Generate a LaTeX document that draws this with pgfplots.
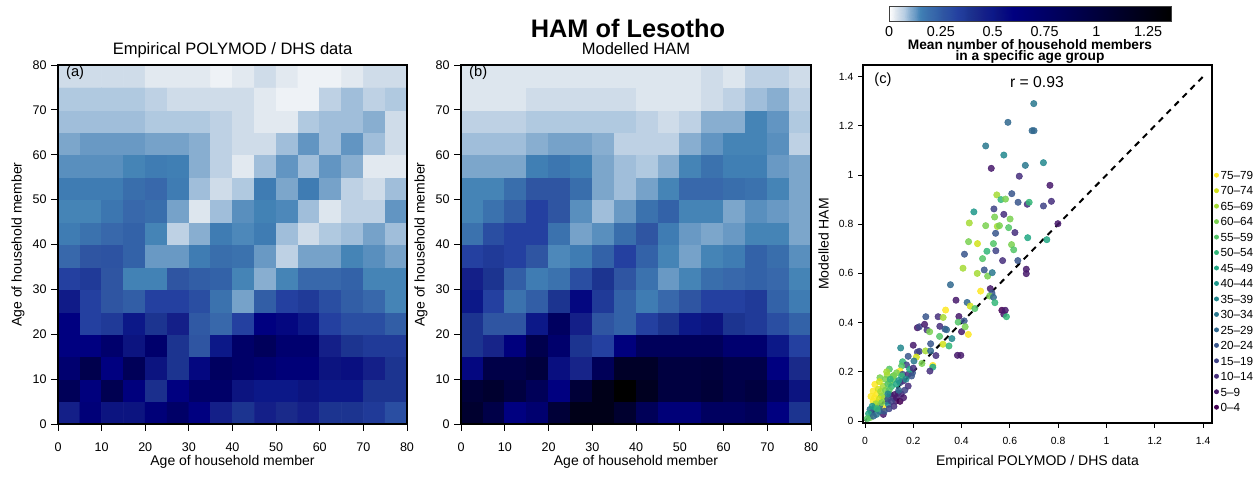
\documentclass[border=0pt]{standalone}
\usepackage{fontspec}
\setmainfont{Liberation Sans}
\usepackage{pgfplots}
\usepackage{pgfplotstable}
\pgfplotsset{compat=1.18}

\definecolor{v0}{RGB}{68,1,84}
\definecolor{v1}{RGB}{72,26,108}
\definecolor{v2}{RGB}{71,47,125}
\definecolor{v3}{RGB}{65,68,135}
\definecolor{v4}{RGB}{57,86,140}
\definecolor{v5}{RGB}{49,104,142}
\definecolor{v6}{RGB}{42,120,142}
\definecolor{v7}{RGB}{35,136,142}
\definecolor{v8}{RGB}{31,152,139}
\definecolor{v9}{RGB}{34,168,132}
\definecolor{v10}{RGB}{53,183,121}
\definecolor{v11}{RGB}{84,197,104}
\definecolor{v12}{RGB}{122,209,81}
\definecolor{v13}{RGB}{165,219,54}
\definecolor{v14}{RGB}{210,226,27}
\definecolor{v15}{RGB}{253,231,37}

\pgfplotsset{
  colormap={ham}{rgb255(0pt)=(255,255,255) rgb255(2pt)=(238,242,246) rgb255(3pt)=(226,233,240)
    rgb255(5pt)=(207,220,233) rgb255(7pt)=(184,206,227) rgb255(8pt)=(168,196,222) rgb255(9pt)=(152,185,215)
    rgb255(10pt)=(136,174,208) rgb255(12pt)=(112,158,199) rgb255(13pt)=(98,149,194) rgb255(14pt)=(80,138,187)
    rgb255(15pt)=(66,130,181) rgb255(16pt)=(63,124,179) rgb255(19pt)=(58,112,173) rgb255(21pt)=(56,104,171)
    rgb255(23pt)=(51,98,168) rgb255(26pt)=(47,85,162) rgb255(29pt)=(42,78,162) rgb255(33pt)=(36,64,160)
    rgb255(36pt)=(32,58,152) rgb255(38pt)=(28,52,144) rgb255(42pt)=(26,42,138) rgb255(46pt)=(20,31,136)
    rgb255(50pt)=(12,24,136) rgb255(52pt)=(12,20,128) rgb255(60pt)=(0,0,128) rgb255(136pt)=(0,0,0)},
  colormap={vir16}{rgb255=(68,1,84) rgb255=(72,26,108) rgb255=(71,47,125) rgb255=(65,68,135)
    rgb255=(57,86,140) rgb255=(49,104,142) rgb255=(42,120,142) rgb255=(35,136,142)
    rgb255=(31,152,139) rgb255=(34,168,132) rgb255=(53,183,121) rgb255=(84,197,104)
    rgb255=(122,209,81) rgb255=(165,219,54) rgb255=(210,226,27) rgb255=(253,231,37)},
}

% Empirical POLYMOD / DHS data: rows from age 0-4 (bottom) to 75-79 (top), 16 values each
\pgfplotstableread[row sep=\\]{
v\\
0.46\\0.65\\0.52\\0.52\\0.65\\0.75\\0.60\\0.46\\0.38\\0.46\\0.42\\0.46\\0.38\\0.38\\0.36\\0.29\\
0.84\\0.62\\0.88\\0.62\\0.40\\0.60\\0.74\\0.74\\0.52\\0.50\\0.50\\0.52\\0.50\\0.50\\0.38\\0.38\\
0.70\\0.90\\0.60\\0.84\\0.52\\0.38\\0.57\\0.79\\0.74\\0.70\\0.65\\0.65\\0.52\\0.54\\0.46\\0.38\\
0.60\\0.60\\0.72\\0.52\\0.72\\0.38\\0.26\\0.50\\0.74\\0.82\\0.70\\0.70\\0.46\\0.38\\0.36\\0.36\\
0.60\\0.33\\0.36\\0.50\\0.38\\0.46\\0.25\\0.21\\0.33\\0.60\\0.57\\0.50\\0.33\\0.29\\0.29\\0.24\\
0.48\\0.33\\0.26\\0.24\\0.33\\0.33\\0.29\\0.185\\0.115\\0.24\\0.33\\0.36\\0.29\\0.24\\0.21\\0.148\\
0.33\\0.36\\0.26\\0.15\\0.15\\0.26\\0.24\\0.23\\0.148\\0.10\\0.148\\0.21\\0.21\\0.23\\0.148\\0.148\\
0.21\\0.26\\0.27\\0.23\\0.125\\0.125\\0.16\\0.195\\0.185\\0.125\\0.065\\0.115\\0.115\\0.148\\0.135\\0.115\\
0.16\\0.185\\0.21\\0.23\\0.148\\0.065\\0.10\\0.16\\0.142\\0.16\\0.085\\0.05\\0.075\\0.085\\0.115\\0.085\\
0.148\\0.148\\0.175\\0.21\\0.195\\0.115\\0.035\\0.085\\0.135\\0.15\\0.142\\0.085\\0.035\\0.065\\0.065\\0.13\\
0.16\\0.16\\0.16\\0.195\\0.21\\0.16\\0.085\\0.05\\0.075\\0.16\\0.11\\0.16\\0.115\\0.065\\0.05\\0.085\\
0.135\\0.135\\0.135\\0.148\\0.16\\0.155\\0.10\\0.065\\0.03\\0.085\\0.13\\0.085\\0.13\\0.10\\0.03\\0.03\\
0.11\\0.125\\0.125\\0.125\\0.115\\0.115\\0.10\\0.065\\0.05\\0.05\\0.085\\0.13\\0.085\\0.13\\0.085\\0.05\\
0.085\\0.085\\0.085\\0.085\\0.075\\0.075\\0.075\\0.065\\0.05\\0.03\\0.03\\0.075\\0.085\\0.085\\0.10\\0.05\\
0.075\\0.075\\0.075\\0.075\\0.065\\0.05\\0.05\\0.05\\0.05\\0.03\\0.02\\0.02\\0.065\\0.085\\0.065\\0.075\\
0.05\\0.05\\0.05\\0.05\\0.03\\0.03\\0.03\\0.02\\0.03\\0.05\\0.03\\0.02\\0.02\\0.03\\0.05\\0.05\\
}\hamA

% Modelled HAM
\pgfplotstableread[row sep=\\]{
v\\
1.08\\0.93\\0.60\\0.70\\1.03\\1.22\\1.22\\1.08\\0.84\\0.65\\0.65\\0.79\\0.79\\0.84\\0.60\\0.38\\
1.03\\1.08\\0.98\\0.84\\0.60\\1.03\\1.22\\1.36\\1.17\\0.98\\0.98\\1.03\\0.93\\0.98\\0.79\\0.52\\
0.57\\0.93\\0.93\\1.00\\0.54\\0.44\\0.84\\1.12\\1.12\\0.98\\0.98\\1.00\\0.92\\0.92\\0.60\\0.42\\
0.38\\0.44\\0.62\\0.90\\0.72\\0.38\\0.33\\0.62\\0.82\\0.82\\0.82\\0.82\\0.70\\0.70\\0.50\\0.33\\
0.38\\0.26\\0.26\\0.50\\0.79\\0.46\\0.26\\0.23\\0.33\\0.38\\0.50\\0.52\\0.38\\0.36\\0.29\\0.23\\
0.50\\0.33\\0.185\\0.24\\0.38\\0.57\\0.36\\0.23\\0.16\\0.21\\0.26\\0.33\\0.33\\0.36\\0.23\\0.16\\
0.46\\0.38\\0.24\\0.16\\0.185\\0.29\\0.38\\0.26\\0.185\\0.125\\0.148\\0.195\\0.21\\0.23\\0.21\\0.148\\
0.33\\0.36\\0.33\\0.26\\0.142\\0.16\\0.23\\0.33\\0.23\\0.148\\0.115\\0.148\\0.16\\0.23\\0.195\\0.135\\
0.185\\0.29\\0.33\\0.33\\0.185\\0.115\\0.135\\0.195\\0.26\\0.16\\0.125\\0.11\\0.125\\0.148\\0.148\\0.11\\
0.148\\0.185\\0.24\\0.33\\0.26\\0.135\\0.085\\0.125\\0.185\\0.23\\0.148\\0.148\\0.11\\0.135\\0.125\\0.11\\
0.148\\0.148\\0.195\\0.26\\0.26\\0.195\\0.11\\0.085\\0.115\\0.148\\0.21\\0.21\\0.195\\0.185\\0.148\\0.11\\
0.11\\0.11\\0.11\\0.155\\0.175\\0.155\\0.11\\0.085\\0.075\\0.10\\0.148\\0.185\\0.155\\0.155\\0.125\\0.11\\
0.085\\0.085\\0.085\\0.10\\0.115\\0.115\\0.10\\0.065\\0.065\\0.065\\0.10\\0.13\\0.148\\0.148\\0.135\\0.065\\
0.065\\0.065\\0.065\\0.075\\0.075\\0.075\\0.075\\0.075\\0.065\\0.05\\0.065\\0.10\\0.10\\0.148\\0.13\\0.075\\
0.035\\0.035\\0.035\\0.05\\0.05\\0.05\\0.05\\0.05\\0.035\\0.035\\0.035\\0.05\\0.065\\0.085\\0.10\\0.065\\
0.035\\0.035\\0.035\\0.035\\0.035\\0.035\\0.035\\0.035\\0.035\\0.035\\0.035\\0.05\\0.035\\0.065\\0.065\\0.05\\
}\hamB

% scatter: empirical, modelled, age group index (0 = 0-4 ... 15 = 75-79)
\pgfplotstableread{
x y g
0.699 1.290 6
0.592 1.214 5
0.692 1.180 5
0.700 1.180 5
0.500 1.118 6
0.575 1.081 7
0.664 1.039 6
0.739 1.050 7
0.523 1.027 1
0.639 0.995 2
0.766 0.958 1
0.546 0.919 13
0.608 0.924 4
0.563 0.900 10
0.582 0.902 12
0.634 0.889 4
0.672 0.881 2
0.680 0.889 10
0.772 0.893 2
0.739 0.874 3
0.534 0.862 3
0.575 0.840 2
0.451 0.850 8
0.537 0.829 12
0.601 0.821 12
0.432 0.805 13
0.500 0.794 12
0.548 0.791 13
0.557 0.794 12
0.595 0.786 11
0.541 0.763 4
0.621 0.766 2
0.799 0.802 1
0.429 0.729 12
0.466 0.721 14
0.532 0.721 11
0.607 0.717 12
0.616 0.696 11
0.505 0.690 10
0.542 0.692 3
0.674 0.745 9
0.753 0.737 9
0.412 0.678 4
0.487 0.660 11
0.570 0.652 2
0.633 0.652 4
0.406 0.621 13
0.494 0.614 4
0.465 0.600 13
0.508 0.589 12
0.527 0.603 6
0.668 0.617 1
0.668 0.599 1
0.354 0.554 5
0.479 0.528 15
0.519 0.538 1
0.526 0.520 4
0.516 0.508 12
0.532 0.503 5
0.538 0.481 10
0.377 0.491 1
0.423 0.482 5
0.436 0.467 14
0.455 0.457 11
0.567 0.450 0
0.581 0.450 1
0.575 0.434 1
0.586 0.424 10
0.334 0.451 15
0.252 0.424 4
0.303 0.424 2
0.324 0.421 13
0.389 0.425 1
0.386 0.402 11
0.411 0.407 4
0.217 0.379 1
0.225 0.383 3
0.247 0.393 1
0.310 0.385 2
0.331 0.374 4
0.338 0.371 5
0.257 0.370 2
0.268 0.363 12
0.400 0.363 1
0.415 0.383 12
0.428 0.352 15
0.309 0.344 11
0.360 0.335 7
0.323 0.312 14
0.348 0.305 10
0.272 0.314 4
0.200 0.308 1
0.148 0.297 7
0.225 0.283 3
0.217 0.280 3
0.251 0.285 13
0.272 0.285 5
0.294 0.266 2
0.179 0.263 4
0.213 0.260 14
0.383 0.267 1
0.397 0.267 1
0.203 0.244 6
0.156 0.241 10
0.172 0.228 3
0.236 0.234 12
0.281 0.226 15
0.281 0.219 9
0.152 0.224 11
0.197 0.196 4
0.269 0.203 2
0.101 0.211 11
0.145 0.203 15
0.156 0.190 4
0.179 0.190 2
0.062 0.176 12
0.092 0.187 13
0.117 0.183 11
0.131 0.196 12
0.179 0.142 2
0.138 0.115 2
0.128 0.081 1
0.117 0.095 2
0.145 0.156 4
0.159 0.163 2
0.193 0.183 4
0.041 0.149 15
0.034 0.122 15
0.055 0.129 14
0.076 0.142 13
0.103 0.156 12
0.117 0.169 11
0.048 0.108 15
0.069 0.102 12
0.034 0.081 15
0.055 0.075 14
0.076 0.054 15
0.021 0.047 6
0.041 0.054 7
0.028 0.034 4
0.048 0.027 6
0.021 0.014 12
0.090 0.081 3
0.103 0.108 2
0.124 0.108 1
0.076 0.027 1
0.097 0.068 7
0.152 0.183 10
0.060 0.160 14
0.085 0.170 12
0.095 0.150 11
0.110 0.140 10
0.130 0.150 9
0.065 0.120 13
0.085 0.125 12
0.100 0.125 11
0.040 0.095 15
0.060 0.090 14
0.080 0.095 13
0.095 0.090 4
0.110 0.080 3
0.130 0.095 1
0.150 0.110 2
0.165 0.125 3
0.145 0.080 0
0.160 0.095 1
0.120 0.060 2
0.100 0.050 3
0.060 0.060 5
0.045 0.070 13
0.030 0.060 8
0.015 0.030 9
0.035 0.020 5
0.060 0.040 6
0.080 0.040 4
0.070 0.075 12
0.025 0.100 15
0.140 0.125 5
0.170 0.170 7
0.120 0.185 12
0.090 0.200 13
0.105 0.170 10
0.185 0.210 9
0.200 0.215 2
0.140 0.165 8
0.095 0.110 7
0.010 0.010 11
0.050 0.050 10
}\scat

\pgfplotsset{
  heat/.style={
    scale only axis, anchor=south west,
    xmin=0, xmax=80, ymin=0, ymax=80, enlargelimits=false,
    xtick={0,10,...,80}, ytick={0,10,...,80},
    xtick pos=left, ytick pos=left, tick align=outside,
    major tick length=5pt,
    every tick/.style={black, line width=0.6pt},
    axis line style={line width=0.9pt},
    /pgf/number format/assume math mode=true,
    tick label style={font=\fontsize{9.4}{10}\selectfont},
    xticklabel style={anchor=center, yshift=-12.3pt, inner sep=0pt},
    yticklabel style={anchor=east},
    colormap name=ham, point meta min=0, point meta max=1.36,
    xlabel={Age of household member}, ylabel={Age of household member},
    label style={font=\fontsize{10.5}{11}\selectfont},
    xlabel style={at={(axis description cs:0.5,-0.105)}, anchor=center, inner sep=0pt},
    ylabel style={at={(axis description cs:-0.1146,0.5)}, anchor=center, rotate=0},
    title style={font=\fontsize{12.4}{13}\selectfont, at={(axis description cs:0.5,1)}, anchor=base, yshift=1.9pt},
    axis on top,
  },
}

\begin{document}
\begin{tikzpicture}
\useasboundingbox (0,0) rectangle (944.25pt,357.75pt);

\node[font=\bfseries\fontsize{19}{20}\selectfont] at (471pt,336.75pt) {HAM of Lesotho};

% (a)
\begin{axis}[heat, at={(43.5pt,39.75pt)}, width=261.75pt, height=269.25pt,
  title={Empirical POLYMOD / DHS data}]
\addplot[matrix plot*, mesh/cols=16, point meta=explicit]
  table[x index=0, y index=0, x expr={mod(\coordindex,16)*5+2.5}, y expr={floor((\coordindex+0.5)/16)*5+2.5}, meta=v] {\hamA};
\node[anchor=west, font=\fontsize{11}{12}\selectfont] at (axis cs:0.8,78.3) {(a)};
\end{axis}

% (b)
\begin{axis}[heat, at={(345.75pt,39.75pt)}, width=262.5pt, height=269.25pt,
  title={Modelled HAM}]
\addplot[matrix plot*, mesh/cols=16, point meta=explicit]
  table[x index=0, y index=0, x expr={mod(\coordindex,16)*5+2.5}, y expr={floor((\coordindex+0.5)/16)*5+2.5}, meta=v] {\hamB};
\node[anchor=west, font=\fontsize{11}{12}\selectfont] at (axis cs:0.8,78.3) {(b)};
\end{axis}

% colour bar
\begin{axis}[scale only axis, anchor=south west, at={(666.75pt,342pt)}, width=211.5pt, height=11.25pt,
  xmin=0, xmax=1.36, ymin=0, ymax=1, enlargelimits=false,
  xtick={0,0.25,0.5,0.75,1,1.25}, ytick=\empty, major tick length=0pt,
  xtick pos=left,
  axis line style={line width=0.6pt, black!75},
  /pgf/number format/assume math mode=true,
  tick label style={font=\fontsize{10.8}{11}\selectfont},
  xticklabel style={anchor=center, yshift=-7.6pt, inner sep=0pt},
  colormap name=ham, point meta min=0, point meta max=1.36,
  xlabel={Mean number of household members\\in a specific age group},
  xlabel style={font=\bfseries\fontsize{10.3}{8.6}\selectfont, align=center, inner sep=0pt, at={(axis description cs:0.5,-2.05)}, anchor=center},
  axis on top]
\addplot[surf, shader=interp, point meta=x, mesh/cols=27] coordinates {
(0,0) (0.02,0) (0.03,0) (0.05,0) (0.07,0) (0.08,0) (0.09,0) (0.10,0) (0.12,0) (0.13,0) (0.14,0) (0.15,0) (0.16,0) (0.19,0) (0.21,0) (0.23,0) (0.26,0) (0.29,0) (0.33,0) (0.36,0) (0.38,0) (0.42,0) (0.46,0) (0.50,0) (0.52,0) (0.60,0) (1.36,0)
(0,1) (0.02,1) (0.03,1) (0.05,1) (0.07,1) (0.08,1) (0.09,1) (0.10,1) (0.12,1) (0.13,1) (0.14,1) (0.15,1) (0.16,1) (0.19,1) (0.21,1) (0.23,1) (0.26,1) (0.29,1) (0.33,1) (0.36,1) (0.38,1) (0.42,1) (0.46,1) (0.50,1) (0.52,1) (0.60,1) (1.36,1)
};
\end{axis}

% (c)
\begin{axis}[scale only axis, anchor=south west, at={(647.25pt,40.5pt)}, width=261.75pt, height=268.5pt,
  xmin=-0.008, xmax=1.437, ymin=-0.008, ymax=1.447,
  xtick={0,0.2,0.4,0.6,0.8,1,1.2,1.4}, ytick={0,0.2,0.4,0.6,0.8,1,1.2,1.4},
  xtick pos=left, ytick pos=left, tick align=outside, major tick length=3.75pt,
  every tick/.style={black, line width=0.6pt},
  axis line style={line width=0.9pt},
  /pgf/number format/assume math mode=true,
  tick label style={font=\fontsize{7.8}{8}\selectfont},
  xticklabel style={anchor=center, yshift=-9.5pt},
  yticklabel style={anchor=east},
  xlabel={Empirical POLYMOD / DHS data}, ylabel={Modelled HAM},
  label style={font=\fontsize{10.5}{11}\selectfont},
  xlabel style={at={(axis description cs:0.5,-0.108)}, anchor=center},
  ylabel style={at={(axis description cs:-0.113,0.5)}, anchor=center},
  colormap name=vir16, point meta min=0, point meta max=15,
  legend cell align=left,
  legend style={at={(axis description cs:1.006,0.707)}, anchor=north west, draw=none, fill=none,
    inner sep=0pt, outer sep=0pt, row sep=3.6pt, column sep=0.5pt,
    font=\fontsize{8.8}{9}\selectfont,
    nodes={inner sep=0.8pt, text height=6.4pt, text depth=0pt}},
  legend image code/.code={\fill[#1] (0pt,0pt) circle (1.6pt);},
]
\addplot[black, dashed, line width=1.5pt, dash pattern=on 4.5pt off 4pt, forget plot] coordinates {(0,0) (1.4,1.4)};
\addplot[scatter, only marks, mark=*, mark size=2.4pt, scatter src=explicit,
  scatter/use mapped color={draw=mapped color, fill=mapped color, opacity=0.85}, forget plot]
  table[x=x, y=y, meta=g] {\scat};
\node[font=\fontsize{11.8}{12}\selectfont] at (axis cs:0.712,1.378) {r = 0.93};
\node[anchor=west, font=\fontsize{11}{12}\selectfont] at (axis cs:0.02,1.386) {(c)};
\addlegendimage{v15}\addlegendentry{75–79}
\addlegendimage{v14}\addlegendentry{70–74}
\addlegendimage{v13}\addlegendentry{65–69}
\addlegendimage{v12}\addlegendentry{60–64}
\addlegendimage{v11}\addlegendentry{55–59}
\addlegendimage{v10}\addlegendentry{50–54}
\addlegendimage{v9}\addlegendentry{45–49}
\addlegendimage{v8}\addlegendentry{40–44}
\addlegendimage{v7}\addlegendentry{35–39}
\addlegendimage{v6}\addlegendentry{30–34}
\addlegendimage{v5}\addlegendentry{25–29}
\addlegendimage{v4}\addlegendentry{20–24}
\addlegendimage{v3}\addlegendentry{15–19}
\addlegendimage{v2}\addlegendentry{10–14}
\addlegendimage{v1}\addlegendentry{5–9}
\addlegendimage{v0}\addlegendentry{0–4}
\end{axis}
\end{tikzpicture}
\end{document}
